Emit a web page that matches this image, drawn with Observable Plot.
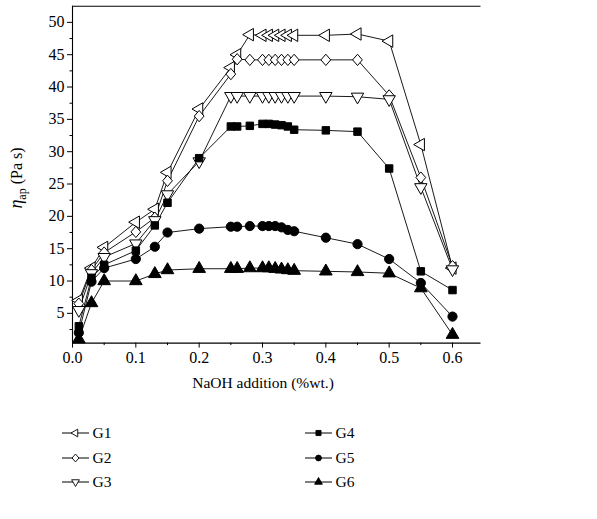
<!DOCTYPE html>
<html>
<head>
<meta charset="utf-8">
<script src="https://cdn.jsdelivr.net/npm/d3@7"></script>
<script src="https://cdn.jsdelivr.net/npm/@observablehq/plot@0.6"></script>
<style>
  html, body { margin: 0; padding: 0; background: #fff; }
  #chart svg { display: block; }
</style>
</head>
<body>
<div id="chart"></div>
<script>
// NaOH addition (%wt.)
const naoh = [0.01, 0.03, 0.05, 0.1, 0.13, 0.15, 0.2, 0.25, 0.26, 0.28, 0.30, 0.31, 0.32, 0.33, 0.34, 0.35, 0.4, 0.45, 0.5, 0.55, 0.6];
// apparent viscosity (Pa s)
const G1 = [7.0, 12.0, 15.2, 19.1, 21.1, 26.8, 36.6, 43.0, 45.0, 48.1, 48.0, 48.0, 48.0, 48.0, 48.0, 48.0, 48.0, 48.2, 47.1, 31.1, 12.0];
const G2 = [6.5, 11.7, 14.4, 17.6, 19.8, 25.5, 35.5, 42.0, 44.3, 44.2, 44.2, 44.2, 44.2, 44.2, 44.2, 44.2, 44.2, 44.2, 38.7, 26.0, 12.3];
const G3 = [5.5, 11.2, 13.7, 15.8, 19.4, 23.4, 28.5, 38.6, 38.6, 38.6, 38.6, 38.6, 38.6, 38.6, 38.6, 38.6, 38.6, 38.5, 38.1, 24.5, 11.8];
const G4 = [3.0, 10.5, 12.5, 14.7, 18.6, 22.1, 29.0, 33.9, 33.9, 34.0, 34.3, 34.3, 34.2, 34.1, 33.9, 33.4, 33.3, 33.1, 27.4, 11.5, 8.6];
const G5 = [2.0, 9.9, 12.0, 13.4, 15.3, 17.5, 18.1, 18.4, 18.4, 18.5, 18.5, 18.5, 18.5, 18.3, 17.9, 17.7, 16.7, 15.7, 13.4, 9.7, 4.5];
const G6 = [1.0, 6.6, 10.0, 10.0, 11.1, 11.7, 11.9, 11.9, 11.9, 12.0, 12.0, 12.0, 11.9, 11.8, 11.7, 11.6, 11.5, 11.4, 11.2, 8.9, 1.7];
const seriesNames = ["G1", "G2", "G3", "G4", "G5", "G6"];
const seriesValues = [G1, G2, G3, G4, G5, G6];
const yTicks = [5, 10, 15, 20, 25, 30, 35, 40, 45, 50];
const xTicks = [0.0, 0.1, 0.2, 0.3, 0.4, 0.5, 0.6];

// custom symbols
const S3 = Math.sqrt(3);
const symLeft = {draw(ctx, size) {
  const s = Math.sqrt(size / (S3 / 4)), h = s * S3 / 2;
  ctx.moveTo(-h * 2 / 3, 0); ctx.lineTo(h / 3, -s / 2); ctx.lineTo(h / 3, s / 2); ctx.closePath();
}};
const symDown = {draw(ctx, size) {
  const s = Math.sqrt(size / (S3 / 4)), h = s * S3 / 2;
  ctx.moveTo(0, h * 2 / 3); ctx.lineTo(-s / 2, -h / 3); ctx.lineTo(s / 2, -h / 3); ctx.closePath();
}};
const symUp = {draw(ctx, size) {
  const s = Math.sqrt(size / (S3 / 4)), h = s * S3 / 2;
  ctx.moveTo(0, -h * 2 / 3); ctx.lineTo(s / 2, h / 3); ctx.lineTo(-s / 2, h / 3); ctx.closePath();
}};
const symDiamond = {draw(ctx, size) {
  const a = Math.sqrt(size / 2);
  ctx.moveTo(0, -a * 1.1); ctx.lineTo(a * 0.95, 0); ctx.lineTo(0, a * 1.1); ctx.lineTo(-a * 0.95, 0); ctx.closePath();
}};
const symSquare = {draw(ctx, size) {
  const a = Math.sqrt(size) / 2;
  ctx.rect(-a, -a, 2 * a, 2 * a);
}};
const symCircle = {draw(ctx, size) {
  const r = Math.sqrt(size / Math.PI);
  ctx.moveTo(r, 0); ctx.arc(0, 0, r, 0, 2 * Math.PI);
}};
const styles = [
  {symbol: symLeft, fill: "white", r: 4.6},
  {symbol: symDiamond, fill: "white", r: 4.1},
  {symbol: symDown, fill: "white", r: 4.6},
  {symbol: symSquare, fill: "black", r: 4.2},
  {symbol: symCircle, fill: "black", r: 4.6},
  {symbol: symUp, fill: "black", r: 4.7}
];

const rows = seriesNames.map((name, i) => naoh.map((x, j) => ({series: name, x, y: seriesValues[i][j]})));

const font = "'Liberation Serif', 'DejaVu Serif', serif";
const W = 597, H = 519;
const xDomain = [0, 0.645], yDomain = [0.4, 52.5];
const mLeft = 72, plotRight = 480.5, mTop = 5.7, plotBottom = 342.6;

const marks = [
  Plot.ruleY([yDomain[1]], {stroke: "black", strokeWidth: 1.1}),
  Plot.ruleY([yDomain[0]], {stroke: "black", strokeWidth: 1.1}),
  Plot.ruleX([xDomain[0]], {stroke: "black", strokeWidth: 1.1}),
  Plot.axisY(yTicks, {tickSize: 5, tickPadding: 3, fontSize: 16, label: null, strokeWidth: 1}),
  Plot.axisY(yTicks.map(v => v - 2.5), {tickSize: 2.5, tickFormat: () => "", label: null, strokeWidth: 1}),
  Plot.axisX(xTicks, {tickSize: 5, tickPadding: 4, fontSize: 16, tickFormat: d3.format(".1f"), label: null, strokeWidth: 1}),
  Plot.axisX(xTicks.slice(0, -1).map(v => v + 0.05), {tickSize: 2.5, tickFormat: () => "", label: null, strokeWidth: 1})
];
rows.forEach(data => marks.push(Plot.line(data, {x: "x", y: "y", stroke: "black", strokeWidth: 0.9})));
rows.forEach((data, i) => marks.push(Plot.dot(data, {
  x: "x", y: "y", symbol: () => styles[i].symbol, r: styles[i].r,
  fill: styles[i].fill, stroke: "black", strokeWidth: 1
})));

const chart = Plot.plot({
  width: W, height: H,
  marginLeft: mLeft, marginRight: W - plotRight, marginTop: mTop, marginBottom: H - plotBottom,
  style: {fontFamily: font, fontSize: "16px", color: "black", background: "white"},
  x: {domain: xDomain},
  y: {domain: yDomain},
  symbol: {type: "identity"},
  marks
});
document.getElementById("chart").appendChild(chart);

// axis titles and legend
const svg = d3.select(chart);
const yl = svg.append("text")
  .attr("transform", "translate(22,178) rotate(-90)")
  .attr("text-anchor", "middle")
  .attr("font-family", font).attr("font-size", 16).attr("fill", "black");
yl.append("tspan").attr("font-style", "italic").attr("font-size", 18).text("η");
yl.append("tspan").attr("font-size", 12).attr("dy", 4).text("ap");
yl.append("tspan").attr("dy", -4).text(" (Pa s)");

svg.append("text")
  .attr("x", 263).attr("y", 388)
  .attr("text-anchor", "middle")
  .attr("font-family", font).attr("font-size", 15.5).attr("fill", "black")
  .text("NaOH addition (%wt.)");

const legRows = [433, 458, 482];
const legCols = [62, 305];
seriesNames.forEach((name, i) => {
  const cx = legCols[Math.floor(i / 3)], cy = legRows[i % 3];
  const g = svg.append("g");
  g.append("line").attr("x1", cx).attr("x2", cx + 27).attr("y1", cy).attr("y2", cy)
    .attr("stroke", "black").attr("stroke-width", 1);
  g.append("path")
    .attr("d", d3.symbol(styles[i].symbol, 26)())
    .attr("transform", `translate(${cx + 13.5},${cy})`)
    .attr("fill", styles[i].fill).attr("stroke", "black").attr("stroke-width", 0.9);
  g.append("text").attr("x", cx + 40).attr("y", cy + 5)
    .attr("font-family", font).attr("font-size", 15.5).attr("fill", "black")
    .text(name);
});
</script>
</body>
</html>
